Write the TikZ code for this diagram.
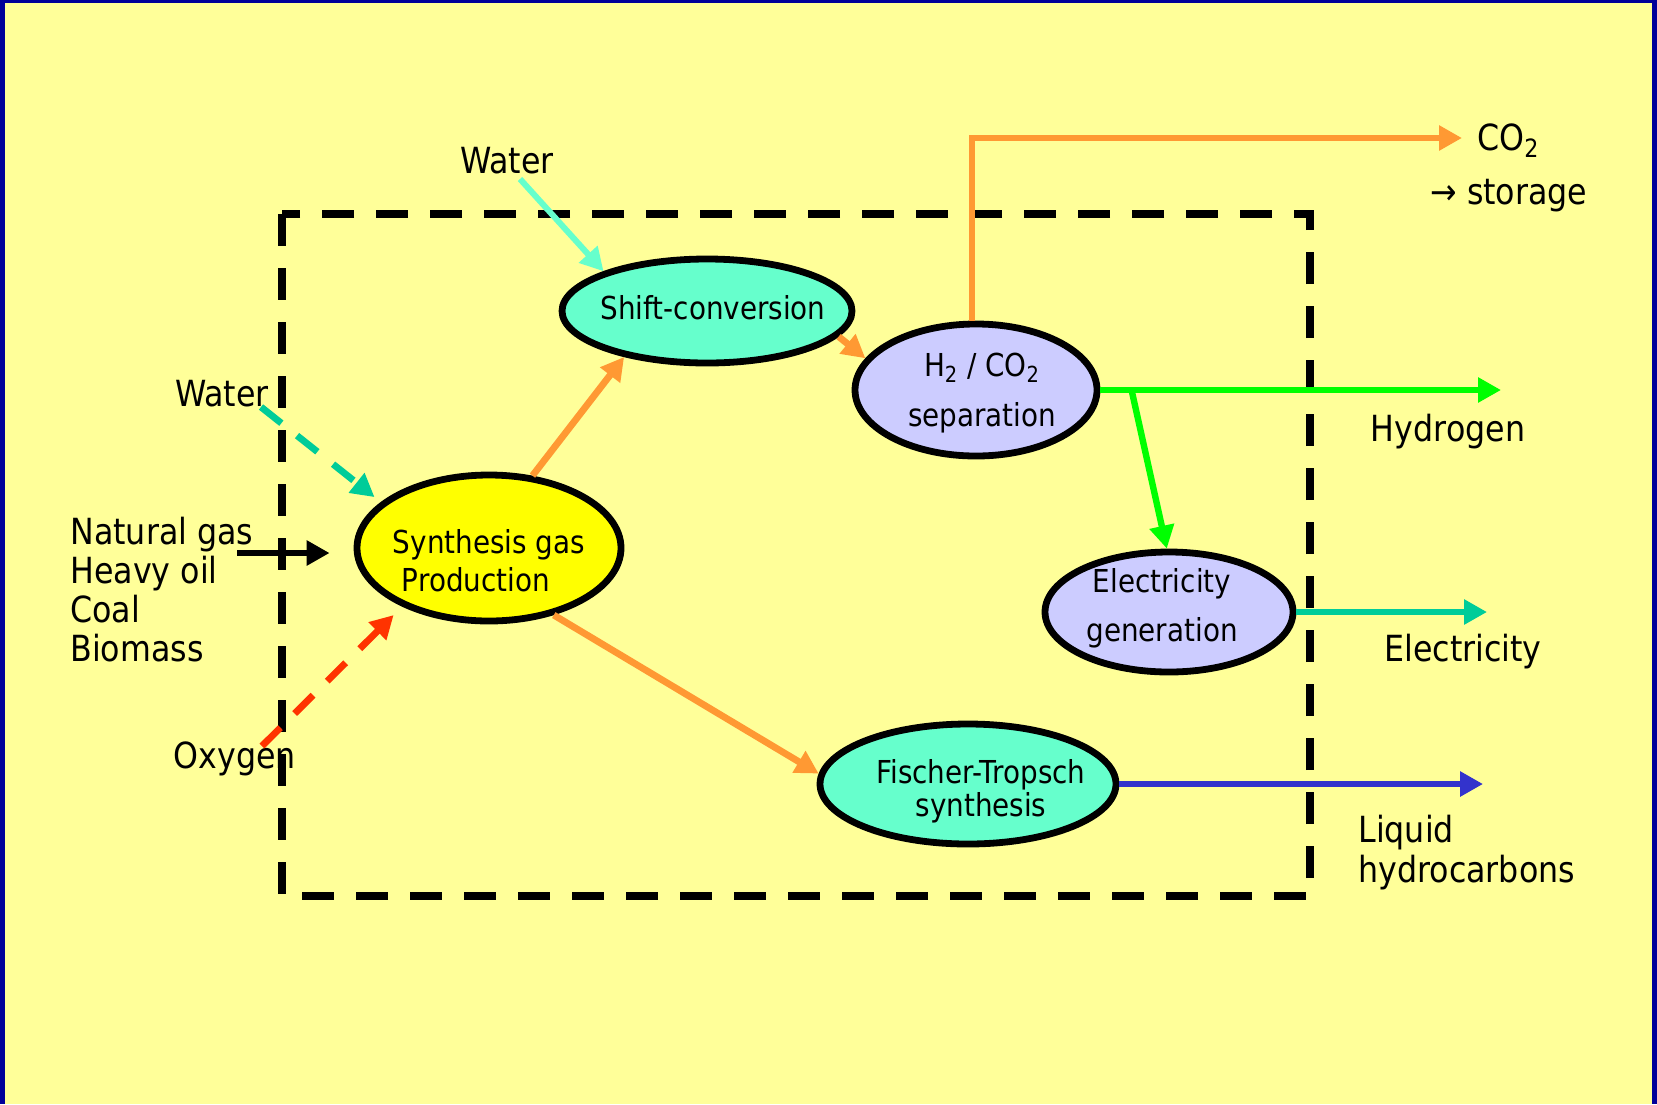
\documentclass[tikz,border=0pt]{standalone}
\usepackage{fontspec}
\setmainfont{DejaVu Sans}[FakeStretch=0.88]
\usetikzlibrary{arrows.meta,shapes.geometric,calc}
\definecolor{bg}{HTML}{FFFF99}
\definecolor{frameblue}{HTML}{000099}
\definecolor{aqua}{HTML}{66FFCC}
\definecolor{lilac}{HTML}{CCCCFF}
\definecolor{synyellow}{HTML}{FFFF00}
\definecolor{orangeflow}{HTML}{FF9933}
\definecolor{greenflow}{HTML}{00FF00}
\definecolor{tealflow}{HTML}{00CC99}
\definecolor{redflow}{HTML}{FF3300}
\definecolor{blueflow}{HTML}{3333CC}
\begin{document}
\begin{tikzpicture}[x=0.5pt,y=-0.5pt,
  proc/.style={ellipse, draw=black, line width=3.4pt, inner sep=0pt},
  ptext/.style={font=\fontsize{15.8}{19}\selectfont, align=center, inner sep=0pt},
  lbl/.style={font=\fontsize{18}{20}\selectfont, inner sep=0pt, align=left},
  flow/.style={line width=3.4pt, -{Triangle[length=11.5pt,width=12pt]}},
  dflow/.style={flow, dash pattern=on 13pt off 10pt},
  boxline/.style={line width=3.6pt, dash pattern=on 16pt off 11pt}
]
\useasboundingbox (0,0) rectangle (1657,1104);
\fill[frameblue] (0,0) rectangle (1657,1104);
\fill[bg] (5,3) rectangle (1652,1104);

% dashed boundary
\draw[boxline] (282,214) rectangle (1310,896);

% process ellipses
\node[proc, fill=aqua, minimum width=145pt, minimum height=52pt] (shift) at (707,311) {};
\node[proc, fill=lilac, minimum width=121pt, minimum height=66pt] (h2) at (976,390) {};
\node[proc, fill=synyellow, minimum width=132pt, minimum height=73pt] (synth) at (489,548) {};
\node[proc, fill=lilac, minimum width=124pt, minimum height=60pt] (elec) at (1169,612) {};
\node[proc, fill=aqua, minimum width=148pt, minimum height=60pt] (ft) at (968,784) {};

% texts in ellipses
\node[ptext] (shiftT) at (713,308) {Shift-conversion};
\node[ptext, align=left, font=\fontsize{15.8}{19}\selectfont] (synthT) at (489,561) {Synthesis gas\\\hspace*{4.5pt}Production};
\node[ptext, font=\fontsize{15.8}{25}\selectfont] (h2T) at (982,393) {H\textsubscript{2} / CO\textsubscript{2}\\separation};
\node[ptext, font=\fontsize{15.8}{24.5}\selectfont] (elecT) at (1162,608) {Electricity\\generation};
\node[ptext, font=\fontsize{15.8}{16.5}\selectfont] (ftT) at (981,791) {Fischer-Tropsch\\synthesis};

% outside labels
\node[lbl] (waterTop) at (507,161) {Water};
\node[lbl] (waterLeft) at (222,394) {Water};
\node[lbl, anchor=west, font=\fontsize{18}{19.5}\selectfont] (feeds) at (70,590) {Natural gas\\Heavy oil\\Coal\\Biomass};
\node[lbl] (oxygen) at (235,759) {Oxygen};
\node[lbl, anchor=west] (co2L) at (1477,141) {CO\textsubscript{2}};
\node[lbl, anchor=west] (storage) at (1430,196) {→ storage};
\node[lbl] (hydL) at (1448,432) {Hydrogen};
\node[lbl] (elecL) at (1463,652) {Electricity};
\node[lbl, anchor=west, font=\fontsize{18}{20}\selectfont] (liqL) at (1358,853) {Liquid\\hydrocarbons};

% free ends
\coordinate (wtStart) at (520,179);
\coordinate (wlStart) at (261,407);
\coordinate (feedStart) at (237,553);
\coordinate (oxStart) at (262,746);
\coordinate (co2Tip) at (1462,138);
\coordinate (hydTip) at (1501,392);
\coordinate (hBranch) at (1132,392);
\coordinate (elecTip) at (1487,612);
\coordinate (liqTip) at (1483,779);

% inputs
\draw[flow, aqua, line width=3pt] (wtStart) -- (shift.159);
\draw[dflow, tealflow, shorten >=4pt] (wlStart) -- (synth.157);
\draw[flow, black] (feedStart) -- ($(feedStart -| synth.west)+(-24,0)$);
\draw[dflow, redflow, shorten >=6pt] (oxStart) -- (synth.214);

% internal flows
\draw[flow, orangeflow] (synth.59) -- (shift.209);
\draw[flow, orangeflow] (shift.-11) -- (h2.164);
\draw[flow, orangeflow] (synth.-46) -- (ft.176);

% outputs
\draw[flow, orangeflow, line width=3pt] (h2.93) |- (co2Tip);
\draw[flow, greenflow] (h2.east) -- (h2.east -| hydTip);
\draw[flow, greenflow, line width=3.2pt] (hBranch) -- (elec.92);
\draw[flow, tealflow] (elec.east) -- (elec.east -| elecTip);
\draw[flow, blueflow] (ft.east) -- (ft.east -| liqTip);
\end{tikzpicture}
\end{document}
